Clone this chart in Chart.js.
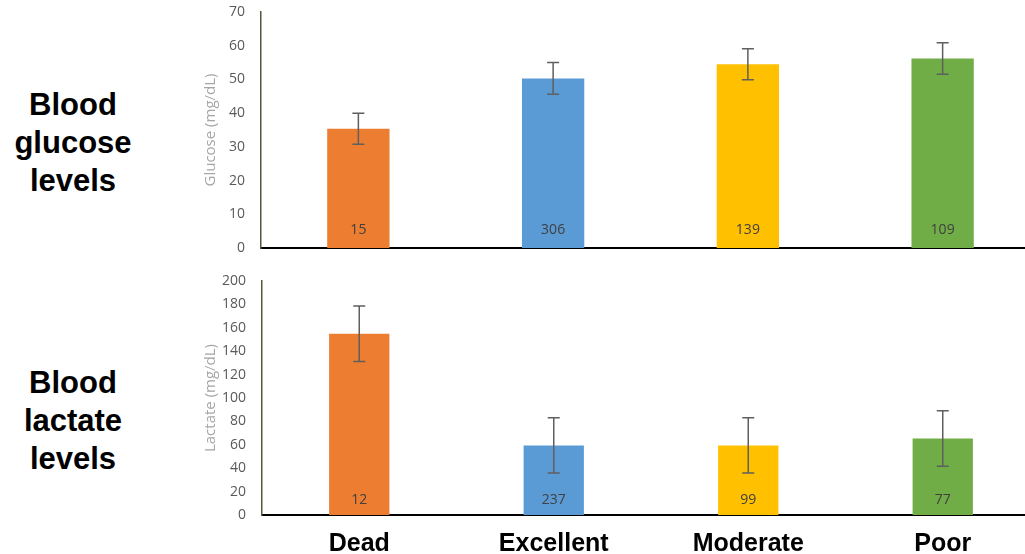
<!DOCTYPE html>
<html>
<head>
<meta charset="utf-8">
<script src="https://cdn.jsdelivr.net/npm/chart.js@4.4.1/dist/chart.umd.min.js"></script>
<style>
    html, body { margin: 0; padding: 0; background: #fff; overflow: hidden; width: 1025px; height: 554px; }
    #glucoseChart { position: absolute; left: 0; top: 0; }
    #lactateChart { position: absolute; left: 0; top: 262px; }
    .side-label { position: absolute; left: 0; width: 146px; text-align: center; font: bold 31px/38px "Liberation Sans", Arial, sans-serif; color: #000; }
</style>
</head>
<body>
<div class="side-label" style="top: 86px;">Blood<br>glucose<br>levels</div>
<div class="side-label" style="top: 364px;">Blood<br>lactate<br>levels</div>
<canvas id="glucoseChart" width="1040" height="262"></canvas>
<canvas id="lactateChart" width="1040" height="292"></canvas>
<script>
const categories = ['Dead', 'Excellent', 'Moderate', 'Poor'];
const barColors = ['#ED7D31', '#5B9BD5', '#FFC000', '#70AD47'];

const glucoseMean = [35.4, 50.3, 54.5, 56.2];
const glucoseErr = [4.6, 4.7, 4.6, 4.7];
const glucoseN = [15, 306, 139, 109];

const lactateMean = [155, 59.5, 59.5, 65.3];
const lactateErr = [23.7, 23.7, 23.7, 23.7];
const lactateN = [12, 237, 99, 77];

// error bars + group size drawn on top of the bars
const errorBarsPlugin = {
    id: 'errorBars',
    afterDatasetsDraw(chart, args, opts) {
        const ctx = chart.ctx;
        const y = chart.scales.y;
        const meta = chart.getDatasetMeta(0);
        const values = chart.data.datasets[0].data;
        ctx.save();
        meta.data.forEach((bar, i) => {
            const top = y.getPixelForValue(values[i] + opts.errors[i]);
            const bot = y.getPixelForValue(values[i] - opts.errors[i]);
            ctx.strokeStyle = '#5f5f5f';
            ctx.lineWidth = 1.5;
            ctx.beginPath();
            ctx.moveTo(bar.x, top); ctx.lineTo(bar.x, bot);
            ctx.moveTo(bar.x - 6, top); ctx.lineTo(bar.x + 6, top);
            ctx.moveTo(bar.x - 6, bot); ctx.lineTo(bar.x + 6, bot);
            ctx.stroke();

            ctx.fillStyle = '#404040';
            ctx.font = '14px "Open Sans"';
            ctx.textAlign = 'center';
            ctx.textBaseline = 'middle';
            ctx.fillText(String(opts.counts[i]), bar.x, y.getPixelForValue(0) - opts.labelOffset);
        });
        ctx.restore();
    }
};

function buildChart(id, means, errs, counts, yMax, yStep, yTitle, cfg) {
    return new Chart(document.getElementById(id), {
        type: 'bar',
        data: {
            labels: categories,
            datasets: [{
                data: means,
                backgroundColor: barColors,
                borderWidth: 0,
                barPercentage: cfg.barPct,
                categoryPercentage: 1.0
            }]
        },
        options: {
            responsive: false,
            animation: false,
            layout: { padding: { left: 200, top: cfg.padTop, right: 0, bottom: cfg.padBottom } },
            plugins: {
                legend: { display: false },
                tooltip: { enabled: false },
                errorBars: { errors: errs, counts: counts, labelOffset: cfg.labelOffset }
            },
            scales: {
                x: {
                    z: 1,
                    grid: { display: false, drawTicks: false },
                    border: { display: true, color: '#000', width: 2 },
                    ticks: {
                        display: cfg.showX,
                        padding: 14,
                        color: '#000',
                        font: { family: 'Liberation Sans', size: 25, weight: 'bold' }
                    },
                    afterFit: s => { s.height = cfg.xHeight; }
                },
                y: {
                    min: 0,
                    max: yMax,
                    grid: { display: false, drawTicks: false },
                    border: { display: true, color: '#4f5b3f', width: 1.5 },
                    ticks: {
                        stepSize: yStep,
                        padding: 16,
                        color: '#595959',
                        font: { family: 'Open Sans', size: 14 }
                    },
                    title: {
                        display: true,
                        text: yTitle,
                        color: '#a6a6a6',
                        font: { family: 'Open Sans', size: 15 },
                        padding: { top: 2, bottom: 0 }
                    },
                    // tick padding is only wanted horizontally
                    afterFit: s => {
                        s.width = cfg.yWidth;
                        s.paddingTop = 0;
                        s.paddingBottom = 0;
                    }
                }
            }
        },
        plugins: [errorBarsPlugin]
    });
}

buildChart('glucoseChart', glucoseMean, glucoseErr, glucoseN, 70, 10, 'Glucose (mg/dL)',
    { barPct: 0.32, padTop: 12, padBottom: 14, xHeight: 0, showX: false, yWidth: 61, labelOffset: 18 });

buildChart('lactateChart', lactateMean, lactateErr, lactateN, 200, 20, 'Lactate (mg/dL)',
    { barPct: 0.31, padTop: 19, padBottom: 0, xHeight: 39, showX: true, yWidth: 62, labelOffset: 15 });
</script>
</body>
</html>
